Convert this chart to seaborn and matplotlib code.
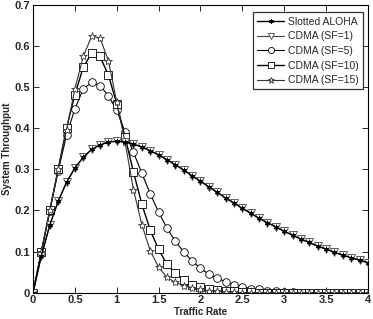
import numpy as np
import pandas as pd
import matplotlib
matplotlib.use("Agg")
import matplotlib.pyplot as plt
import seaborn as sns

sns.set_style("ticks")
plt.rcParams['font.family'] = ['Liberation Sans', 'DejaVu Sans']

traffic = [round(0.1 * i, 1) for i in range(41)]

aloha = [0, 0.090, 0.164, 0.222, 0.268, 0.303, 0.329, 0.348, 0.359, 0.366,
         0.368, 0.366, 0.361, 0.354, 0.345, 0.335, 0.323, 0.311, 0.298, 0.284,
         0.271, 0.257, 0.244, 0.230, 0.218, 0.205, 0.193, 0.181, 0.170, 0.160,
         0.149, 0.140, 0.130, 0.122, 0.113, 0.106, 0.098, 0.091, 0.085, 0.079,
         0.073]
sf1 = list(aloha)
sf5 = [0, 0.100, 0.198, 0.295, 0.382, 0.447, 0.495, 0.511, 0.503, 0.479,
       0.443, 0.390, 0.341, 0.290, 0.240, 0.196, 0.157, 0.125, 0.099, 0.077,
       0.059, 0.045, 0.035, 0.027, 0.019, 0.015, 0.010, 0.008, 0.005, 0.003,
       0.002, 0.001, 0, 0, 0, 0, 0, 0, 0, 0, 0]
sf10 = [0, 0.100, 0.200, 0.300, 0.400, 0.481, 0.548, 0.582, 0.574, 0.529,
        0.459, 0.378, 0.293, 0.215, 0.152, 0.105, 0.069, 0.047, 0.031, 0.019,
        0.013, 0.009, 0.006, 0.004, 0.003, 0.002, 0.001, 0, 0, 0,
        0, 0, 0, 0, 0, 0, 0, 0, 0, 0, 0]
sf15 = [0, 0.100, 0.200, 0.300, 0.395, 0.495, 0.574, 0.623, 0.619, 0.564,
        0.463, 0.365, 0.250, 0.165, 0.102, 0.062, 0.037, 0.025, 0.017, 0.012,
        0.008, 0.005, 0.003, 0.002, 0.001, 0, 0, 0, 0, 0,
        0, 0, 0, 0, 0, 0, 0, 0, 0, 0, 0]

# name, values, marker, colour, linewidth, markersize, zorder
series = [
    ("Slotted ALOHA", aloha, (6, 2, 0), 'k', 1.0, 4, 4),
    ("CDMA (SF=1)", sf1, 'v', '#444444', 0.8, 5.5, 3),
    ("CDMA (SF=5)", sf5, 'o', 'k', 0.8, 5.5, 2),
    ("CDMA (SF=10)", sf10, 's', 'k', 1.0, 5.5, 2),
    ("CDMA (SF=15)", sf15, '*', '#333333', 0.8, 6, 2),
]

fig = plt.figure(figsize=(3.73, 3.19), dpi=100)
ax = fig.add_axes([0.0885, 0.0824, 0.898, 0.9032])

for name, vals, mk, col, lw, ms, z in series:
    sns.lineplot(x=traffic, y=vals, ax=ax, label=name, color=col, lw=lw,
                 marker=mk, markersize=ms, markerfacecolor='white',
                 markeredgecolor=col, markeredgewidth=0.6, zorder=z)

ax.set_xlim(0, 4)
ax.set_ylim(0, 0.7)
ax.set_xticks([0, 0.5, 1, 1.5, 2, 2.5, 3, 3.5, 4])
ax.set_xticklabels(["0", "0.5", "1", "1.5", "2", "2.5", "3", "3.5", "4"])
ax.set_yticks([0, 0.1, 0.2, 0.3, 0.4, 0.5, 0.6, 0.7])
ax.set_yticklabels(["0", "0.1", "0.2", "0.3", "0.4", "0.5", "0.6", "0.7"])
ax.tick_params(direction='in', top=True, right=True, length=4, width=0.7,
               labelsize=8, pad=2)
for lab in ax.get_xticklabels() + ax.get_yticklabels():
    lab.set_fontweight('bold')
for sp in ax.spines.values():
    sp.set_visible(True)
    sp.set_color('k')
    sp.set_linewidth(0.8)

ax.set_xlabel("Traffic Rate", fontsize=7, fontweight='bold', labelpad=1)
ax.set_ylabel("System Throughput", fontsize=7, fontweight='bold', labelpad=2)

leg = ax.legend(loc='upper right', bbox_to_anchor=(0.986, 0.973),
                fontsize=7.5, frameon=True, fancybox=False, edgecolor='k',
                handlelength=2.6, borderpad=0.4, labelspacing=0.45,
                handletextpad=0.4, borderaxespad=0, markerscale=0.8)
leg.get_frame().set_linewidth(0.9)

fig.savefig("out.png", dpi=100)
